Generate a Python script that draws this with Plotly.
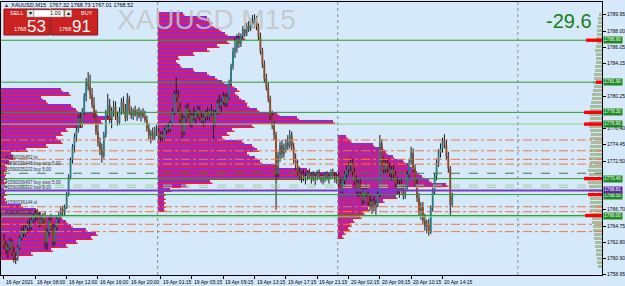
import plotly.graph_objects as go

# ---------------- data ----------------
opens = [1763.1,1762.5,1761.9,1762.2,1762.9,1761.6,1761.0,1760.9,1762.2,1763.3,
 1764.2,1763.8,1764.5,1765.0,1764.6,1765.5,1765.9,1766.3,1765.8,1765.1,
 1765.5,1766.0,1762.8,1764.1,1765.4,1764.4,1762.9,1764.6,1765.6,1766.1,
 1766.7,1766.4,1767.0,1768.5,1770.6,1772.6,1774.2,1775.4,1776.2,1777.6,
 1776.9,1778.4,1780.2,1781.9,1781.4,1780.4,1779.2,1778.0,1776.0,1774.7,
 1773.8,1773.1,1775.6,1778.1,1779.2,1777.5,1778.5,1779.0,1777.8,1777.1,
 1778.4,1779.6,1778.5,1777.6,1779.9,1778.4,1777.9,1778.5,1778.0,1778.3,
 1777.9,1778.2,1777.8,1777.4,1776.4,1775.5,1775.9,1775.3,1776.2,
 1776.0,1775.4,1775.7,1775.2,1776.2,1776.6,1776.3,1777.0,1778.4,1780.5,
 1780.1,1778.7,1777.5,1776.0,1777.6,1778.8,1778.0,1777.0,1777.9,1777.6,
 1778.2,1778.6,1777.7,1777.3,1777.7,1778.3,1777.8,1778.5,1778.1,1777.0,
 1778.3,1779.4,1779.1,1779.6,1780.2,1779.4,1780.1,1781.9,1783.8,1785.6,
 1786.0,1787.1,1786.5,1787.4,1788.2,1787.7,1788.6,1788.3,1789.2,1788.8,
 1789.5,1788.5,1787.3,1785.6,1784.0,1782.3,1781.3,1779.9,1777.9,1776.7,
 1775.6,1771.0,1773.2,1774.4,1773.3,1774.1,1774.7,1774.3,1775.6,1774.2,
 1772.6,1772.0,1771.2,1770.6,1770.9,1770.4,1770.7,1771.0,1770.5,1770.8,
 1770.3,1770.6,1771.1,1770.6,1770.2,1770.5,1770.9,1770.4,1770.7,1771.2,
 1770.7,1770.3,
 1770.6,1769.8,1769.1,1770.2,1770.9,1771.5,1771.9,1772.3,1771.2,1770.0,
 1769.0,1769.8,1768.8,1767.8,1768.9,1768.6,1767.6,1767.1,1767.7,1766.9,
 1767.4,1768.5,1774.6,1772.4,1771.5,1772.2,1771.6,1771.0,1771.5,1770.8,
 1769.8,1769.1,1769.7,1769.0,1768.4,1769.2,1770.9,1772.4,1773.5,1771.6,
 1769.8,1768.1,1766.5,1767.1,1765.4,1764.7,1765.0,1764.0,1766.9,1768.9,
 1770.7,1772.3,1773.5,1774.0,1774.9,1774.4,1773.1,1771.6,1767.32]
highs = [1763.8,1763.0,1762.6,1763.4,1763.2,1762.3,1761.6,1762.5,1763.6,1764.6,
 1764.8,1764.9,1765.3,1765.6,1765.8,1766.2,1766.7,1766.8,1766.4,1765.9,
 1766.3,1766.5,1764.5,1765.8,1766.2,1765.0,1764.9,1765.9,1766.4,1767.0,
 1767.2,1767.3,1768.8,1770.9,1772.9,1774.5,1775.8,1776.6,1778.0,1778.3,
 1778.8,1780.6,1782.4,1783.1,1782.8,1781.2,1780.1,1778.6,1776.9,1775.3,
 1774.6,1776.0,1778.6,1780.5,1779.9,1778.9,1779.7,1779.6,1778.4,1778.9,
 1780.0,1780.2,1779.3,1780.6,1780.3,1779.0,1778.8,1779.1,1778.7,1778.9,
 1778.6,1778.8,1778.5,1777.9,1777.0,1776.2,1776.5,1776.6,1776.8,
 1776.4,1776.0,1776.1,1776.5,1776.9,1777.1,1777.3,1778.8,1780.9,1782.5,
 1781.0,1779.4,1778.2,1777.9,1779.2,1779.4,1778.6,1778.3,1778.9,1778.5,
 1779.1,1779.0,1778.4,1778.0,1778.6,1778.9,1778.7,1779.3,1778.6,1778.6,
 1779.8,1780.4,1780.0,1780.7,1780.6,1780.5,1782.2,1784.1,1786.0,1787.2,
 1787.6,1787.8,1787.7,1788.6,1788.8,1789.0,1789.2,1789.5,1789.9,1790.0,
 1789.8,1788.9,1787.8,1786.0,1784.5,1782.9,1781.9,1780.3,1778.5,1777.2,
 1776.0,1773.6,1774.8,1775.0,1774.6,1775.1,1775.6,1776.2,1776.0,1774.7,
 1773.4,1772.6,1771.8,1771.3,1771.5,1771.1,1771.4,1771.6,1771.2,1771.3,
 1771.0,1771.4,1771.5,1771.0,1770.9,1771.2,1771.3,1771.0,1771.5,1771.6,
 1771.2,1771.0,
 1771.2,1770.5,1770.6,1771.3,1771.9,1772.4,1772.9,1772.7,1771.7,1770.8,
 1770.2,1770.5,1769.4,1769.3,1769.8,1769.2,1768.4,1768.0,1768.3,1767.8,
 1768.9,1775.6,1775.1,1773.0,1772.6,1772.8,1772.3,1771.9,1772.1,1771.3,
 1770.6,1770.2,1770.4,1769.7,1769.6,1771.3,1772.8,1774.2,1774.0,1772.1,
 1770.3,1768.7,1767.6,1767.6,1766.2,1765.5,1765.6,1767.2,1769.3,1771.1,
 1772.8,1773.9,1774.6,1775.3,1775.7,1775.0,1773.6,1771.9,1768.73]
lows = [1762.0,1761.4,1760.9,1761.8,1761.2,1760.4,1760.2,1760.6,1761.9,1763.0,
 1763.4,1763.5,1763.9,1764.2,1764.3,1765.0,1765.3,1765.5,1764.6,1764.7,
 1765.0,1762.0,1761.9,1763.5,1764.0,1762.3,1762.5,1764.2,1765.0,1765.6,
 1765.9,1766.0,1766.8,1768.3,1770.3,1772.2,1773.5,1774.8,1775.9,1776.5,
 1776.6,1778.0,1779.6,1780.9,1779.9,1778.8,1777.6,1775.6,1774.2,1773.2,
 1772.3,1772.8,1775.3,1777.6,1777.0,1776.4,1777.8,1777.4,1776.7,1776.8,
 1778.0,1778.1,1777.2,1777.3,1778.0,1777.5,1777.4,1777.8,1777.3,1777.6,
 1777.2,1777.6,1777.1,1776.0,1775.1,1774.6,1775.0,1775.0,1775.5,
 1775.0,1774.8,1774.9,1774.9,1775.7,1775.9,1776.0,1776.7,1778.0,1779.6,
 1778.3,1777.0,1775.2,1775.6,1777.1,1777.6,1776.6,1776.5,1777.3,1776.9,
 1777.6,1777.3,1777.0,1776.6,1777.2,1777.4,1777.3,1777.9,1775.0,1776.7,
 1778.0,1778.8,1778.2,1779.2,1778.9,1779.0,1779.8,1781.5,1783.4,1784.8,
 1785.4,1786.0,1786.1,1787.0,1787.3,1787.4,1787.9,1788.0,1788.4,1788.3,
 1788.1,1786.9,1785.2,1783.6,1781.8,1780.9,1779.5,1777.4,1776.3,1775.0,
 1766.7,1770.6,1772.4,1772.8,1772.9,1773.5,1773.8,1774.0,1773.8,1772.2,
 1771.5,1770.8,1770.2,1769.9,1770.1,1769.7,1770.2,1770.3,1769.8,1770.1,
 1769.6,1770.2,1770.3,1769.9,1769.7,1770.0,1770.2,1769.8,1770.3,1770.4,
 1769.9,1769.8,
 1769.4,1768.7,1768.6,1769.5,1770.3,1770.8,1771.3,1770.8,1769.6,1768.6,
 1768.2,1768.4,1767.3,1767.4,1768.2,1767.2,1766.6,1766.2,1766.5,1766.1,
 1767.0,1768.2,1771.9,1771.0,1771.0,1771.2,1770.6,1770.2,1770.5,1769.4,
 1768.6,1768.1,1768.7,1767.9,1768.0,1768.9,1770.5,1772.0,1771.2,1769.4,
 1767.6,1766.0,1765.5,1765.0,1764.2,1763.9,1763.6,1763.8,1766.5,1768.5,
 1770.2,1771.8,1772.9,1773.5,1774.0,1772.6,1771.1,1766.1,1767.01]
closes = [1762.5,1761.9,1762.2,1762.9,1761.6,1761.0,1760.9,1762.2,1763.3,1764.2,
 1763.8,1764.5,1765.0,1764.6,1765.5,1765.9,1766.3,1765.8,1765.1,1765.5,
 1766.0,1762.8,1764.1,1765.4,1764.4,1762.9,1764.6,1765.6,1766.1,1766.7,
 1766.4,1767.0,1768.5,1770.6,1772.6,1774.2,1775.4,1776.2,1777.6,1776.9,
 1778.4,1780.2,1781.9,1781.4,1780.4,1779.2,1778.0,1776.0,1774.7,1773.8,
 1773.1,1775.6,1778.1,1779.2,1777.5,1778.5,1779.0,1777.8,1777.1,1778.4,
 1779.6,1778.5,1777.6,1779.9,1778.4,1777.9,1778.5,1778.0,1778.3,1777.9,
 1778.2,1777.8,1777.4,1776.4,1775.5,1775.9,1775.3,1776.2,1776.0,
 1775.4,1775.7,1775.2,1776.2,1776.6,1776.3,1777.0,1778.4,1780.5,1780.1,
 1778.7,1777.5,1776.0,1777.6,1778.8,1778.0,1777.0,1777.9,1777.6,1778.2,
 1778.6,1777.7,1777.3,1777.7,1778.3,1777.8,1778.5,1778.1,1777.0,1778.3,
 1779.4,1779.1,1779.6,1780.2,1779.4,1780.1,1781.9,1783.8,1785.6,1786.0,
 1787.1,1786.5,1787.4,1788.2,1787.7,1788.6,1788.3,1789.2,1788.8,1789.5,
 1788.5,1787.3,1785.6,1784.0,1782.3,1781.3,1779.9,1777.9,1776.7,1775.6,
 1771.0,1773.2,1774.4,1773.3,1774.1,1774.7,1774.3,1775.6,1774.2,1772.6,
 1772.0,1771.2,1770.6,1770.9,1770.4,1770.7,1771.0,1770.5,1770.8,1770.3,
 1770.6,1771.1,1770.6,1770.2,1770.5,1770.9,1770.4,1770.7,1771.2,1770.7,
 1770.3,1770.6,
 1769.8,1769.1,1770.2,1770.9,1771.5,1771.9,1772.3,1771.2,1770.0,1769.0,
 1769.8,1768.8,1767.8,1768.9,1768.6,1767.6,1767.1,1767.7,1766.9,1767.4,
 1768.5,1774.6,1772.4,1771.5,1772.2,1771.6,1771.0,1771.5,1770.8,1769.8,
 1769.1,1769.7,1769.0,1768.4,1769.2,1770.9,1772.4,1773.5,1771.6,1769.8,
 1768.1,1766.5,1767.1,1765.4,1764.7,1765.0,1764.0,1766.9,1768.9,1770.7,
 1772.3,1773.5,1774.0,1774.9,1774.4,1773.1,1771.6,1767.3,1768.52]

time_tick_idx = [0, 16, 32, 48, 64, 80, 96, 112, 128, 144, 160, 176, 192, 208, 224]
time_tick_labels = ["16 Apr 2021", "16 Apr 08:00", "16 Apr 12:00", "16 Apr 16:00", "16 Apr 20:00",
                    "19 Apr 01:15", "19 Apr 05:15", "19 Apr 09:15", "19 Apr 13:15", "19 Apr 17:15",
                    "19 Apr 21:15", "20 Apr 02:15", "20 Apr 06:15", "20 Apr 10:15", "20 Apr 14:15"]
day_start_idx = [79, 171, 263]

# price-scale labels that are visible (others are covered by level boxes)
price_ticks = [1789.95, 1788.00, 1786.05, 1784.15, 1780.25, 1776.40, 1774.45,
               1772.50, 1766.70, 1764.75, 1762.80, 1760.90, 1758.95]

# day volume profiles (top price of profile, volume per price bin)
prof_tops = [1781.2, 1790.27, 1775.61]
prof1_vol = [60,68,40,45,70,75,95,110,100,80,65,60,55,60,45,25,10,12,8,
             4,4,3,4,3,4,3,4,3,4,
             20,35,40,60,65,70,85,95,90,75,65,50,30,15]
prof2_vol = [25,50,53,55,62,68,86,70,60,50,35,20,18,22,35,50,58,65,75,80,
             78,82,88,90,100,120,140,176,95,75,70,65,85,95,100,90,98,103,120,150,
             180,145,53,28,12,6,6,6,6,6]
prof3_vol = [8,12,35,45,48,55,65,70,75,80,85,92,109,65,62,58,45,38,30,25,22,15,12,10,6,4]

# whole-range profile at the price scale
range_prof_top = 1790.27
range_prof_vol = [3,4,4,5,5, 5,6,5,6,7,6,6, 6,7,7,8,8,9,8, 9,10,10,11,12,
                  12,13,12,13,13,12,11,12,11,12,
                  12,12,13,12,13,14,13,13,14,13,13,12,
                  12,12,11,12,11,10,10,9,9,8,
                  8,7,7,6,6,5,5,4]

# horizontal levels
green_levels = [1786.90, 1781.90, 1778.30, 1770.40, 1768.50, 1766.00]
green_labels = ["1786.90", "1781.90", "1778.30", "1770.40", "1768.50", "1766.00"]
light_green_levels = [1776.90, 1765.85]
light_green_labels = ["1776.90", None]
bid_level = 1768.98
bid_label = "1768.81"
dark_green_dash_levels = [1771.04]
light_green_dash_levels = [1769.62, 1769.36]
orange_levels = [1775.01, 1773.72, 1772.70, 1772.13, 1767.05, 1766.46, 1764.96, 1764.08]
level_marks = [(1786.90, 16), (1781.90, 6), (1778.30, 18), (1776.90, 18),
               (1770.40, 18), (1768.50, 14), (1766.00, 17)]

order_texts = ["#1590036452 tp", "#1590036448 buy stop 5.00", "#1590035223 buy 5.00",
               "#1590036457 buy stop 5.00", "#1590036310 buy 5.00", "#1590036144 sl", "#1590035223 sl"]
order_text_prices = [1772.88, 1772.24, 1771.43, 1769.95, 1769.35, 1767.50, 1766.33]

header_text = "XAUUSD,M15  1767.32 1768.73 1767.01 1768.52"
sell_price = ("1768", "53")
buy_price = ("1768", "91")
lot_text = "1.00"
profit_text = "-29.6"
watermark = "XAUUSD M15"

# ---------------- geometry / style ----------------
W, H = 625, 286
ML, MR, MT, MB = 0, 22, 2, 11
PW, PH = W - ML - MR, H - MT - MB
PX_PER_BAR = 1.964
X0 = -3 / PX_PER_BAR
X1 = X0 + PW / PX_PER_BAR
Y_TOP, Y_BOT = 1791.46, 1758.91
PPD = PH / (Y_TOP - Y_BOT)            # pixels per dollar
STEP = 4 / PPD                        # one bin = 4 px
BG = "#d6e9fb"
PURPLE = "#8a2be2"
RED = "#ff1a1a"
FONT = "Liberation Sans"

def px(xp):
    return (xp - ML) / PW

def py(yp):
    return (H - MB - yp) / PH

def snap(price):
    # align a price to a whole screen pixel so thin rows render crisply
    return Y_TOP - round((Y_TOP - price) * PPD) / PPD

fig = go.Figure()

prof_bases = [X0, day_start_idx[0] - 0.5, day_start_idx[1] - 0.5]
red_x, red_y = [], []
for base, top, vols in zip(prof_bases, prof_tops, [prof1_vol, prof2_vol, prof3_vol]):
    top = snap(top)
    ys = [top - STEP * (k + 0.5) for k in range(len(vols))]
    lens = [v / PX_PER_BAR for v in vols]
    fig.add_trace(go.Bar(orientation="h", y=ys, x=lens, base=base,
                         width=STEP, marker=dict(color=PURPLE, line=dict(width=0)),
                         hoverinfo="skip"))
    for y, l in zip(ys, lens):
        yy = y - STEP / 2 + 0.8 / PPD
        red_x += [base, base + l + 2 / PX_PER_BAR, None]
        red_y += [yy, yy, None]

# range profile drawn leftwards from the price scale
rtop = snap(range_prof_top)
rys = [rtop - STEP * (k + 0.5) for k in range(len(range_prof_vol))]
rlen = [v / PX_PER_BAR for v in range_prof_vol]
fig.add_trace(go.Bar(orientation="h", y=rys, x=rlen, base=[X1 - l for l in rlen],
                     width=STEP * 0.75, marker=dict(color="#a6bda2", line=dict(width=0)),
                     hoverinfo="skip"))

# red stripes of the day profiles (drawn over all bars)
fig.add_trace(go.Scatter(x=red_x, y=red_y, mode="lines",
                         line=dict(color=RED, width=1.6, simplify=False), hoverinfo="skip"))

# candles: wicks then bodies
idx = list(range(len(closes)))
wx, wy = [], []
for i in idx:
    wx += [i, i, None]
    wy += [lows[i], highs[i], None]
fig.add_trace(go.Scatter(x=wx, y=wy, mode="lines", line=dict(color="#1a1a1a", width=1),
                         hoverinfo="skip"))
bx_up, by_up, bx_dn, by_dn = [], [], [], []
for i in idx:
    o, c = opens[i], closes[i]
    if abs(c - o) < 0.08:
        c = o + 0.08
    if closes[i] >= opens[i]:
        bx_up += [i, i, None]; by_up += [o, c, None]
    else:
        bx_dn += [i, i, None]; by_dn += [o, c, None]
fig.add_trace(go.Scatter(x=bx_up, y=by_up, mode="lines", line=dict(color="#2d7a88", width=1.8),
                         hoverinfo="skip"))
fig.add_trace(go.Scatter(x=bx_dn, y=by_dn, mode="lines", line=dict(color="#8c4722", width=1.8),
                         hoverinfo="skip"))

shapes = []
def hline(y, color, dash="solid", width=1):
    shapes.append(dict(type="line", xref="paper", x0=0, x1=1, yref="y", y0=y, y1=y,
                       line=dict(color=color, width=width, dash=dash)))

for y in orange_levels:
    hline(y, "#f07840", "dashdot")
for y in light_green_dash_levels:
    hline(y, "#9fd09f", "dash")
for y in dark_green_dash_levels:
    hline(y, "#3c7f3c", "dash")
for y in light_green_levels:
    hline(y, "#8fd08f")
for y in green_levels:
    hline(y, "#2e9a2e")
hline(bid_level, "#7a3cc0", width=2)

for y, ln in level_marks:
    shapes.append(dict(type="rect", xref="x", yref="y", x0=X1 - ln / PX_PER_BAR, x1=X1,
                       y0=y - 0.2, y1=y + 0.2, fillcolor="#ff0000", line=dict(width=0)))

for d in day_start_idx:
    shapes.append(dict(type="line", xref="x", x0=d - 0.5, x1=d - 0.5, yref="paper", y0=0, y1=1,
                       line=dict(color="#7f8c99", width=1, dash="dot")))

# one-click panel
def rect(x0, y0, x1, y1, fill, lc=None, lw=0):
    shapes.append(dict(type="rect", xref="paper", yref="paper", x0=px(x0), x1=px(x1),
                       y0=py(y1), y1=py(y0), fillcolor=fill,
                       line=dict(color=lc or fill, width=lw)))

rect(3, 9, 49, 35, "#cc2222", "#8a1010", 1)
rect(50, 9, 97, 35, "#cc2222", "#8a1010", 1)
rect(26, 10, 33, 17, "#e8e8e8", "#808080", 0.5)
rect(33, 10, 63, 17, "#ffffff", "#808080", 0.5)
rect(64, 10, 71, 17, "#e8e8e8", "#808080", 0.5)

annotations = []
def text(x, y, s, size, color, xanchor="left", yanchor="middle", family=FONT, xref="paper", yref="paper", **kw):
    annotations.append(dict(x=x, y=y, xref=xref, yref=yref, text=s, showarrow=False,
                            xanchor=xanchor, yanchor=yanchor,
                            font=dict(size=size, color=color, family=family), **kw))

text(px(2), py(5), "▴", 6, "#333333")
text(px(8), py(5), header_text, 5.5, "#000000")
text(px(7), py(13.5), "SELL", 5.5, "#ffffff")
text(px(78), py(13.5), "BUY", 5.5, "#ffffff")
text(px(29.5), py(13.5), "▾", 6, "#000000", xanchor="center")
text(px(67.5), py(13.5), "▴", 6, "#000000", xanchor="center")
text(px(62), py(13.5), lot_text, 5.5, "#000000", xanchor="right")
text(px(11), py(29), sell_price[0], 5.5, "#ffffff")
text(px(24), py(26.5), sell_price[1], 17, "#ffffff")
text(px(56), py(29), buy_price[0], 5.5, "#ffffff")
text(px(69), py(26.5), buy_price[1], 17, "#ffffff")
text(px(206), py(20), watermark, 28, "rgba(196,196,196,0.85)", xanchor="center")
text(px(570), py(21), profit_text, 20, "#128012", xanchor="center")

for s, p in zip(order_texts, order_text_prices):
    text(X0 + 1, p, s, 4.5, "#333333", xref="x", yref="y")

for i, s in zip(time_tick_idx, time_tick_labels):
    text(i, 0, s, 5, "#000000", xref="x", yanchor="top", yshift=-2)

box_shift = {"1768.50": -1.5}
for p, s in zip(green_levels, green_labels):
    text(1, p, s, 4.6, "#ffffff", xref="paper", yref="y", xshift=1, yshift=box_shift.get(s, 0),
         bgcolor="#1f8a1f", borderpad=0.3)
for p, s in zip(light_green_levels, light_green_labels):
    if s:
        text(1, p, s, 4.6, "#ffffff", xref="paper", yref="y", xshift=1, bgcolor="#1f8a1f", borderpad=0.3)
text(1, bid_level, bid_label, 4.6, "#ffffff", xref="paper", yref="y", xshift=1, yshift=1,
     bgcolor="#5a2a9a", borderpad=0.3)

fig.update_layout(
    width=W, height=H, margin=dict(l=ML, r=MR, t=MT, b=MB),
    paper_bgcolor=BG, plot_bgcolor=BG, showlegend=False,
    barmode="overlay", bargap=0, hovermode=False,
    shapes=shapes, annotations=annotations,
    xaxis=dict(range=[X0, X1], showgrid=False, zeroline=False, showline=True,
               linecolor="#000000", linewidth=1, mirror=True, tickvals=time_tick_idx,
               ticks="outside", ticklen=3, tickcolor="#000000", showticklabels=False,
               fixedrange=True),
    yaxis=dict(range=[Y_BOT, Y_TOP], side="right", showgrid=False, zeroline=False,
               showline=True, linecolor="#000000", linewidth=1, mirror=True,
               tickvals=price_ticks, ticktext=[f"{p:.2f}" for p in price_ticks],
               ticks="outside", ticklen=3, tickcolor="#000000",
               tickfont=dict(size=5, family=FONT, color="#000000"), fixedrange=True),
)

fig.write_html("out.html", config={"displayModeBar": False})
